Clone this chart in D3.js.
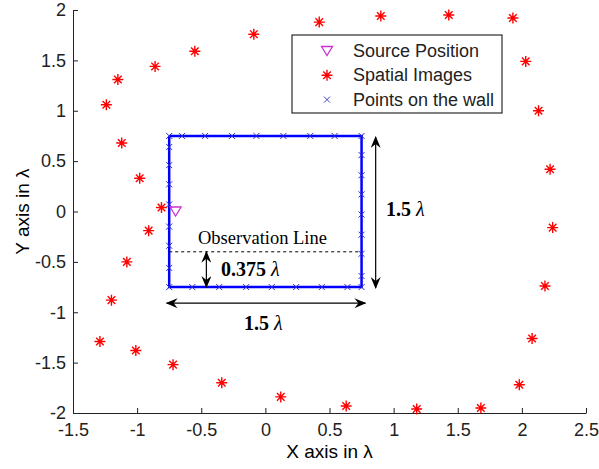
<!DOCTYPE html>
<html>
<head>
<meta charset="utf-8">
<script src="https://cdn.jsdelivr.net/npm/d3@7"></script>
<style>
body { margin: 0; background: white; }
</style>
</head>
<body>
<div id="chart"></div>
<script>
let width = 599;
let height = 469;

// data (units of lambda)
let xTicks = [-1.5, -1, -0.5, 0, 0.5, 1, 1.5, 2, 2.5];
let yTicks = [-2, -1.5, -1, -0.5, 0, 0.5, 1, 1.5, 2];

let imgX = [-0.55, -0.86, -1.15, -1.24, -1.12, -0.98, -0.81, -0.91, -1.08, -1.20, -1.29, -1.01,
			-0.72, -0.34, 0.12, 0.63, 1.18, 1.68, 1.98, 2.08, 2.18, 2.24, 2.22, 2.13, 2.03, 1.93,
			1.43, 0.90, 0.42, -0.09];
let imgY = [1.59, 1.44, 1.31, 1.06, 0.68, 0.33, 0.04, -0.19, -0.50, -0.88, -1.29, -1.38,
			-1.52, -1.70, -1.84, -1.93, -1.96, -1.95, -1.72, -1.26, -0.74, -0.16, 0.42, 1.00, 1.49, 1.92,
			1.95, 1.94, 1.88, 1.76];

let wallX = [-0.75, -0.65, -0.47, -0.26, -0.07, 0.14, 0.35, 0.54, 0.75,
			 -0.75, -0.57, -0.36, -0.15, 0.05, 0.24, 0.44, 0.64, 0.75,
			 -0.75, -0.75, -0.75, -0.75, -0.75, -0.75, -0.75,
			 0.75, 0.75, 0.75, 0.75, 0.75, 0.75, 0.75];
let wallY = [0.75, 0.75, 0.75, 0.75, 0.75, 0.75, 0.75, 0.75, 0.75,
			 -0.75, -0.75, -0.75, -0.75, -0.75, -0.75, -0.75, -0.75, -0.75,
			 0.64, 0.46, 0.27, 0.07, -0.15, -0.34, -0.56,
			 0.56, 0.36, 0.17, -0.03, -0.23, -0.42, -0.64];

let roomX = [-0.75, 0.75, 0.75, -0.75, -0.75];
let roomY = [0.75, 0.75, -0.75, -0.75, 0.75];

let srcX = [-0.7];
let srcY = [0];

let obsY = -0.4;

let legendLabels = ["Source Position", "Spatial Images", "Points on the wall"];

let x = d3.scaleLinear().domain([-1.5, 2.5]).range([73, 586]);
let y = d3.scaleLinear().domain([-2, 2]).range([413, 10]);

let svg = d3.select("#chart")
	.append("svg")
	.attr("width", width)
	.attr("height", height)
	.style("background-color", "white")
	.style("font-family", "'Liberation Sans', Arial, sans-serif");

let defs = svg.append("defs");
defs.append("marker")
	.attr("id", "head")
	.attr("viewBox", "0 0 12 10")
	.attr("refX", 11)
	.attr("refY", 5)
	.attr("markerWidth", 12)
	.attr("markerHeight", 10)
	.attr("markerUnits", "userSpaceOnUse")
	.attr("orient", "auto-start-reverse")
	.append("path")
	.attr("d", "M0,0L12,5L0,10L4,5z")
	.attr("fill", "black");

/*------------------ axes ------------------*/

let xAxis = svg.append("g")
	.attr("transform", "translate(0," + y(-2) + ")")
	.call(d3.axisBottom(x).tickValues(xTicks).tickSizeInner(-5).tickSizeOuter(0).tickPadding(10)
		.tickFormat(function(d){return String(d);}));

let yAxis = svg.append("g")
	.attr("transform", "translate(" + x(-1.5) + ",0)")
	.call(d3.axisLeft(y).tickValues(yTicks).tickSizeInner(-5).tickSizeOuter(0).tickPadding(7)
		.tickFormat(function(d){return String(d);}));

svg.selectAll(".tick text").style("font-size", "18px").attr("fill", "#222")
	.style("font-family", "'Liberation Sans', Arial, sans-serif");
svg.selectAll(".domain, .tick line").attr("stroke", "#222");

svg.append("text")
	.attr("x", (x(-1.5) + x(2.5)) / 2)
	.attr("y", 458)
	.attr("text-anchor", "middle")
	.style("font-size", "19px")
	.text("X axis in λ");

svg.append("text")
	.attr("transform", "translate(29," + y(0) + ") rotate(-90)")
	.attr("text-anchor", "middle")
	.style("font-size", "19px")
	.text("Y axis in λ");

/*------------------ room and points ------------------*/

let line = d3.line()
	.x(function(d){return x(d[0]);})
	.y(function(d){return y(d[1]);});

svg.append("path")
	.datum(d3.zip(roomX, roomY))
	.attr("d", line)
	.attr("fill", "none")
	.attr("stroke", "#0000ff")
	.attr("stroke-width", 2.5);

let cross = "M-3,-3L3,3M-3,3L3,-3";

svg.append("g")
	.selectAll("path")
	.data(d3.zip(wallX, wallY))
	.enter()
	.append("path")
	.attr("transform", function(d){return "translate(" + x(d[0]) + "," + y(d[1]) + ")";})
	.attr("d", cross)
	.attr("stroke", "#2a2ad0")
	.attr("stroke-width", 1);

let star = "M-5.5,0H5.5M0,-5.5V5.5M-3.8,-3.8L3.8,3.8M-3.8,3.8L3.8,-3.8";

svg.append("g")
	.selectAll("path")
	.data(d3.zip(imgX, imgY))
	.enter()
	.append("path")
	.attr("transform", function(d){return "translate(" + x(d[0]) + "," + y(d[1]) + ")";})
	.attr("d", star)
	.attr("stroke", "#ff0000")
	.attr("stroke-width", 1.4);

let tri = "M-5.5,-4.5L5.5,-4.5L0,4.5Z";

svg.append("g")
	.selectAll("path")
	.data(d3.zip(srcX, srcY))
	.enter()
	.append("path")
	.attr("transform", function(d){return "translate(" + x(d[0]) + "," + y(d[1]) + ")";})
	.attr("d", tri)
	.attr("fill", "none")
	.attr("stroke", "#cc33cc")
	.attr("stroke-width", 1.3);

/*------------------ annotations ------------------*/

svg.append("line")
	.attr("x1", x(-0.75)).attr("x2", x(0.75))
	.attr("y1", y(obsY)).attr("y2", y(obsY))
	.attr("stroke", "black")
	.attr("stroke-width", 1)
	.attr("stroke-dasharray", "3,3");

svg.append("text")
	.attr("x", 198)
	.attr("y", 244)
	.style("font-family", "'Liberation Serif', 'Times New Roman', serif")
	.style("font-size", "18.5px")
	.text("Observation Line");

let arrows = [
	{x1: -0.46, y1: obsY, x2: -0.46, y2: -0.75},
	{x1: 0.86, y1: 0.74, x2: 0.86, y2: -0.76},
	{x1: -0.77, y1: -0.91, x2: 0.78, y2: -0.91}
];

svg.append("g")
	.selectAll("line")
	.data(arrows)
	.enter()
	.append("line")
	.attr("x1", function(d){return x(d.x1);})
	.attr("y1", function(d){return y(d.y1);})
	.attr("x2", function(d){return x(d.x2);})
	.attr("y2", function(d){return y(d.y2);})
	.attr("stroke", "black")
	.attr("stroke-width", 1.2)
	.attr("marker-start", "url(#head)")
	.attr("marker-end", "url(#head)");

let notes = [
	{px: 221, py: 276, num: "0.375"},
	{px: 386, py: 216, num: "1.5"},
	{px: 244, py: 330, num: "1.5"}
];

let note = svg.append("g")
	.selectAll("text")
	.data(notes)
	.enter()
	.append("text")
	.attr("x", function(d){return d.px;})
	.attr("y", function(d){return d.py;})
	.style("font-family", "'Liberation Serif', 'Times New Roman', serif")
	.style("font-size", "20px")
	.style("font-weight", "bold");
note.append("tspan").text(function(d){return d.num + " ";});
note.append("tspan").style("font-style", "italic").style("font-weight", "normal").text("λ");

/*------------------ legend ------------------*/

let legend = svg.append("g").attr("transform", "translate(292,35)");

legend.append("rect")
	.attr("width", 210)
	.attr("height", 78)
	.attr("fill", "white")
	.attr("stroke", "black")
	.attr("stroke-width", 1);

let items = legend.selectAll(".legends")
	.data(legendLabels)
	.enter()
	.append("g")
	.classed("legends", true)
	.attr("transform", function(d,i){return "translate(0," + (16 + i*24.3) + ")";});

items.append("path")
	.attr("transform", "translate(35,0)")
	.attr("d", function(d,i){return [tri, star, cross][i];})
	.attr("fill", "none")
	.attr("stroke", function(d,i){return ["#cc33cc", "#ff0000", "#4444c0"][i];})
	.attr("stroke-width", function(d,i){return [1.3, 1.4, 1][i];});

items.append("text")
	.attr("x", 61)
	.attr("y", 6)
	.style("font-size", "18px")
	.attr("fill", "#222")
	.text(function(d){return d;});
</script>
</body>
</html>
